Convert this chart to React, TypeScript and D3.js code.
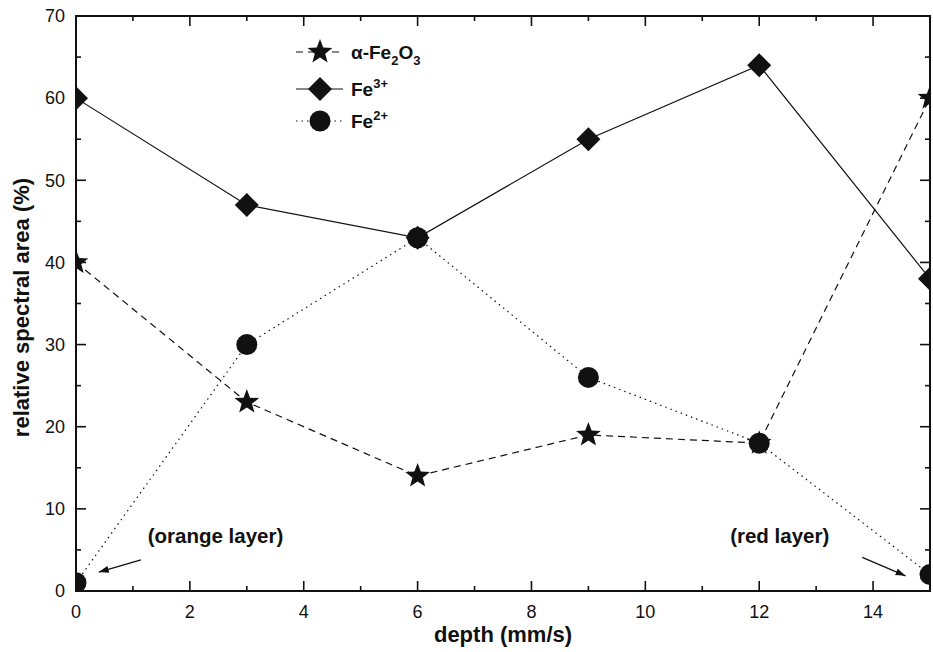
import React from 'react';
import * as d3 from 'd3';

const depths = [0, 3, 6, 9, 12, 15];
const hematite = [40, 23, 14, 19, 18, 60];
const fe3 = [60, 47, 43, 55, 64, 38];
const fe2 = [1, 30, 43, 26, 18, 2];
const xTicks = [0, 2, 4, 6, 8, 10, 12, 14];
const yTicks = [0, 10, 20, 30, 40, 50, 60, 70];

const W = 933;
const H = 652;
const margin = { top: 16, right: 3, bottom: 61, left: 76 };
const FONT = 'Liberation Sans, Arial, sans-serif';

function starPath(r: number) {
  const pts: string[] = [];
  for (let i = 0; i < 10; i++) {
    const rr = i % 2 === 0 ? r : r * 0.42;
    const a = -Math.PI / 2 + (i * Math.PI) / 5;
    pts.push(`${(rr * Math.cos(a)).toFixed(2)},${(rr * Math.sin(a)).toFixed(2)}`);
  }
  return `M${pts.join('L')}Z`;
}

function Marker({ kind, x, y }: { kind: string; x: number; y: number }) {
  if (kind === 'star')
    return <path d={starPath(13)} transform={`translate(${x},${y})`} fill="#111" />;
  if (kind === 'diamond')
    return <path d="M0,-12L12,0L0,12L-12,0Z" transform={`translate(${x},${y})`} fill="#111" />;
  return <circle cx={x} cy={y} r={10.5} fill="#111" />;
}

export default function App() {
  const iw = W - margin.left - margin.right;
  const ih = H - margin.top - margin.bottom;
  const x = d3.scaleLinear().domain([0, 15]).range([0, iw]);
  const y = d3.scaleLinear().domain([0, 70]).range([ih, 0]);
  const line = d3
    .line<number>()
    .x((_, i) => x(depths[i]))
    .y((d) => y(d));

  const series = [
    { name: 'hem', values: hematite, kind: 'star', dash: '7,5' },
    { name: 'fe3', values: fe3, kind: 'diamond', dash: undefined },
    { name: 'fe2', values: fe2, kind: 'circle', dash: '1.5,4' },
  ];
  const legendY = [36, 73, 105];

  const xMinor = d3.range(0, 16, 1);
  const yMinor = d3.range(0, 71, 5);

  return (
    <svg width={W} height={H} style={{ position: 'absolute', left: 0, top: 0, background: '#fff' }}>
      <defs>
        <clipPath id="plot">
          <rect x={0} y={0} width={iw} height={ih} />
        </clipPath>
        <marker id="arr" viewBox="0 0 10 10" refX={10} refY={5} markerWidth={10} markerHeight={10} markerUnits="userSpaceOnUse" orient="auto">
          <path d="M0,1.5L10,5L0,8.5Z" fill="#111" />
        </marker>
      </defs>
      <g transform={`translate(${margin.left},${margin.top})`}>
        <g clipPath="url(#plot)">
          {series.map((s) => (
            <path key={s.name} d={line(s.values) || ''} fill="none" stroke="#111" strokeWidth={1.2} strokeDasharray={s.dash} />
          ))}
          {series.map((s) =>
            s.values.map((v, i) => <Marker key={s.name + i} kind={s.kind} x={x(depths[i])} y={y(v)} />)
          )}
        </g>

        {/* ticks on all sides, pointing inward */}
        {xMinor.map((t) => {
          const major = t % 2 === 0;
          const len = major ? 10 : 5;
          return (
            <g key={'xt' + t} stroke="#111" strokeWidth={1.6}>
              <line x1={x(t)} x2={x(t)} y1={ih} y2={ih - len} />
              <line x1={x(t)} x2={x(t)} y1={0} y2={len} />
            </g>
          );
        })}
        {yMinor.map((t) => {
          const major = t % 10 === 0;
          const len = major ? 10 : 5;
          return (
            <g key={'yt' + t} stroke="#111" strokeWidth={1.6}>
              <line x1={0} x2={len} y1={y(t)} y2={y(t)} />
              <line x1={iw} x2={iw - len} y1={y(t)} y2={y(t)} />
            </g>
          );
        })}
        <rect x={0} y={0} width={iw} height={ih} fill="none" stroke="#111" strokeWidth={2} />

        {xTicks.map((t) => (
          <text key={'xl' + t} x={x(t)} y={ih + 27} textAnchor="middle" fontFamily={FONT} fontSize={18} fill="#111">
            {t}
          </text>
        ))}
        {yTicks.map((t) => (
          <text key={'yl' + t} x={-11} y={y(t)} dy="0.35em" textAnchor="end" fontFamily={FONT} fontSize={18} fill="#111">
            {t}
          </text>
        ))}

        <text x={iw / 2} y={ih + 51} textAnchor="middle" fontFamily={FONT} fontSize={22} fontWeight="bold" fill="#111">
          depth (mm/s)
        </text>
        <text transform={`translate(-47,${ih / 2 + 4}) rotate(-90)`} textAnchor="middle" fontFamily={FONT} fontSize={22} fontWeight="bold" fill="#111">
          relative spectral area (%)
        </text>

        {/* annotations */}
        <text x={x(1.26)} y={y(5.85)} fontFamily={FONT} fontSize={20.5} fontWeight="bold" fill="#111">
          (orange layer)
        </text>
        <line x1={x(1.14)} y1={y(3.8)} x2={x(0.4)} y2={y(2.3)} stroke="#111" strokeWidth={1.3} markerEnd="url(#arr)" />
        <text x={x(11.49)} y={y(5.85)} fontFamily={FONT} fontSize={20.5} fontWeight="bold" fill="#111">
          (red layer)
        </text>
        <line x1={x(13.81)} y1={y(4.1)} x2={x(14.57)} y2={y(1.85)} stroke="#111" strokeWidth={1.3} markerEnd="url(#arr)" />

        {/* legend */}
        {series.map((s, i) => (
          <g key={'lg' + s.name}>
            <line x1={220} x2={267} y1={legendY[i]} y2={legendY[i]} stroke="#111" strokeWidth={1.2} strokeDasharray={s.dash} />
            <Marker kind={s.kind} x={244} y={legendY[i]} />
          </g>
        ))}
        <text x={275} y={legendY[0]} dy="0.35em" fontFamily={FONT} fontSize={19} fontWeight="bold" fill="#111">
          α-Fe
          <tspan fontSize={13} dy={6}>2</tspan>
          <tspan dy={-6}>O</tspan>
          <tspan fontSize={13} dy={6}>3</tspan>
        </text>
        <text x={275} y={legendY[1]} dy="0.35em" fontFamily={FONT} fontSize={19} fontWeight="bold" fill="#111">
          Fe
          <tspan fontSize={13} dy={-8}>3+</tspan>
        </text>
        <text x={275} y={legendY[2]} dy="0.35em" fontFamily={FONT} fontSize={19} fontWeight="bold" fill="#111">
          Fe
          <tspan fontSize={13} dy={-8}>2+</tspan>
        </text>
      </g>
    </svg>
  );
}
